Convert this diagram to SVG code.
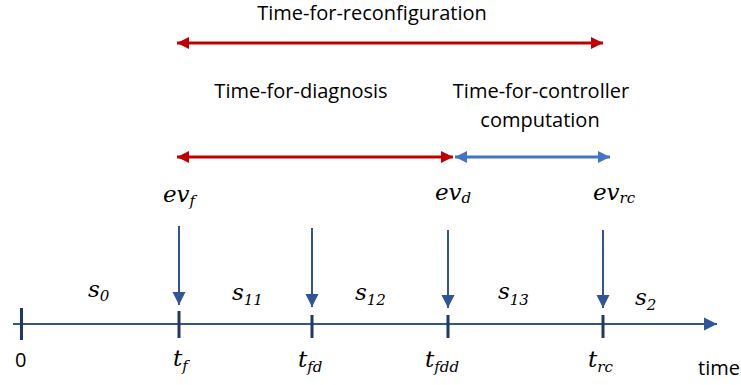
<svg xmlns="http://www.w3.org/2000/svg" width="741" height="385" viewBox="0 0 741 385">
<style>
.lbl{font-family:"Open Sans","Liberation Sans",sans-serif;font-size:20px;fill:#000}
.m{font-family:"DejaVu Serif","Liberation Serif",serif;font-style:italic;font-size:23px;fill:#000}
.sub{font-size:15px}
.tick{stroke:#1F3864;stroke-width:3}
.ev{stroke:#2F5597;stroke-width:2}
</style>
<defs>
<marker id="hr" viewBox="0 0 10 10" refX="10" refY="5" markerWidth="4.5" markerHeight="4" orient="auto-start-reverse" markerUnits="strokeWidth"><path d="M0,0L10,5L0,10z" fill="#C00000"/></marker>
<marker id="hb" viewBox="0 0 10 10" refX="10" refY="5" markerWidth="4.5" markerHeight="4" orient="auto-start-reverse" markerUnits="strokeWidth"><path d="M0,0L10,5L0,10z" fill="#4472C4"/></marker>
<marker id="hd" viewBox="0 0 10 10" refX="10" refY="5" markerWidth="6.5" markerHeight="7" orient="auto" markerUnits="strokeWidth"><path d="M0,0L10,5L0,10z" fill="#2F5597"/></marker>
</defs>
<g id="labels">
<text class="lbl" x="372" y="20" text-anchor="middle">Time-for-reconfiguration</text>
<text class="lbl" x="301" y="98" text-anchor="middle">Time-for-diagnosis</text>
<text class="lbl" x="541" y="98" text-anchor="middle">Time-for-controller</text>
<text class="lbl" x="540" y="127" text-anchor="middle">computation</text>
</g>
<g id="connectors" fill="none">
<line x1="177" y1="43" x2="603" y2="43" stroke="#C00000" stroke-width="3" marker-start="url(#hr)" marker-end="url(#hr)"/>
<line x1="177" y1="157" x2="453" y2="157" stroke="#C00000" stroke-width="3" marker-start="url(#hr)" marker-end="url(#hr)"/>
<line x1="455" y1="157" x2="610" y2="157" stroke="#4472C4" stroke-width="3" marker-start="url(#hb)" marker-end="url(#hb)"/>
<line x1="13" y1="324" x2="717" y2="324" stroke="#2F5597" stroke-width="2" marker-end="url(#hd)"/>
<line class="ev" x1="179" y1="226" x2="179" y2="305" marker-end="url(#hd)"/>
<line class="ev" x1="312" y1="228" x2="312" y2="307" marker-end="url(#hd)"/>
<line class="ev" x1="448" y1="230" x2="448" y2="308" marker-end="url(#hd)"/>
<line class="ev" x1="603" y1="230" x2="603" y2="308" marker-end="url(#hd)"/>
</g>
<g id="ticks">
<line class="tick" x1="21.5" y1="308" x2="21.5" y2="340"/>
<line class="tick" x1="179" y1="311" x2="179" y2="338"/>
<line class="tick" x1="312" y1="315" x2="312" y2="338"/>
<line class="tick" x1="448" y1="315" x2="448" y2="338"/>
<line class="tick" x1="603" y1="315" x2="603" y2="338"/>
</g>
<g id="events">
<text class="m" x="163" y="202">ev<tspan class="sub" dy="4">f</tspan></text>
<text class="m" x="435" y="200">ev<tspan class="sub" dy="3">d</tspan></text>
<text class="m" x="593" y="200">ev<tspan class="sub" dy="3">rc</tspan></text>
</g>
<g id="states">
<text class="m" x="88" y="297">s<tspan class="sub" dy="4">0</tspan></text>
<text class="m" x="232" y="300">s<tspan class="sub" dy="5">11</tspan></text>
<text class="m" x="355" y="300">s<tspan class="sub" dy="5">12</tspan></text>
<text class="m" x="498" y="299">s<tspan class="sub" dy="6">13</tspan></text>
<text class="m" x="635" y="305">s<tspan class="sub" dy="5">2</tspan></text>
</g>
<g id="times">
<text class="lbl" x="15" y="367">0</text>
<text class="m" x="173" y="366">t<tspan class="sub" dy="5">f</tspan></text>
<text class="m" x="298" y="367">t<tspan class="sub" dy="5">fd</tspan></text>
<text class="m" x="425" y="367">t<tspan class="sub" dy="5">fdd</tspan></text>
<text class="m" x="588" y="367">t<tspan class="sub" dy="5">rc</tspan></text>
<text class="lbl" x="698" y="375">time</text>
</g>
</svg>
